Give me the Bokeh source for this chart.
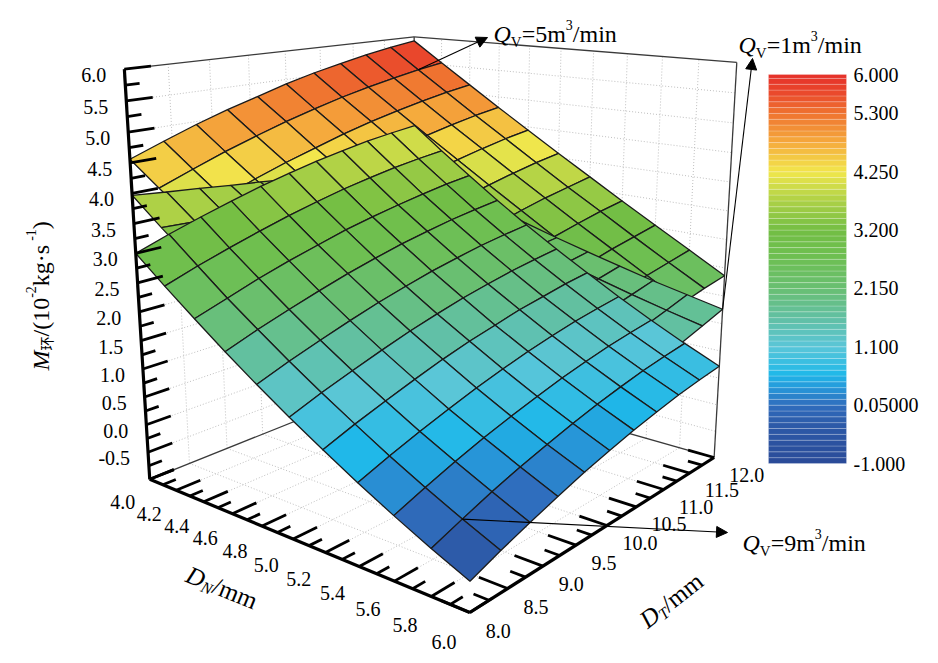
import numpy as np
from bokeh.plotting import figure
from bokeh.models import Range1d, Arrow, NormalHead
from bokeh.core.properties import value
from bokeh.embed import file_html
from bokeh.resources import INLINE

# mesh of the response surfaces
dn = [4.0, 4.2, 4.4, 4.6, 4.8, 5.0, 5.2, 5.4, 5.6, 5.8, 6.0]
dt = [8.0, 8.4, 8.8, 9.2, 9.6, 10.0, 10.4, 10.8, 11.2, 11.6, 12.0]

# M (10^-2 kg/s), one row per D_N, one column per D_T
m_qv5 = [
    [4.56, 4.76, 4.95, 5.12, 5.27, 5.42, 5.55, 5.66, 5.76, 5.85, 5.92],
    [4.18, 4.38, 4.57, 4.74, 4.90, 5.04, 5.17, 5.28, 5.38, 5.47, 5.54],
    [3.81, 4.01, 4.20, 4.37, 4.52, 4.67, 4.80, 4.91, 5.01, 5.10, 5.17],
    [3.44, 3.64, 3.83, 4.00, 4.16, 4.30, 4.43, 4.54, 4.64, 4.73, 4.80],
    [3.08, 3.28, 3.46, 3.64, 3.79, 3.94, 4.06, 4.18, 4.28, 4.37, 4.44],
    [2.72, 2.92, 3.11, 3.28, 3.43, 3.58, 3.71, 3.82, 3.92, 4.01, 4.08],
    [2.37, 2.57, 2.75, 2.92, 3.08, 3.22, 3.35, 3.47, 3.57, 3.65, 3.73],
    [2.02, 2.22, 2.40, 2.58, 2.73, 2.88, 3.00, 3.12, 3.22, 3.31, 3.38],
    [1.67, 1.87, 2.06, 2.23, 2.39, 2.53, 2.66, 2.78, 2.88, 2.96, 3.04],
    [1.33, 1.53, 1.72, 1.89, 2.05, 2.19, 2.32, 2.44, 2.54, 2.62, 2.70],
    [1.00, 1.20, 1.39, 1.56, 1.71, 1.86, 1.99, 2.10, 2.20, 2.29, 2.36],
]
m_qv1 = [
    [3.97, 3.91, 3.86, 3.80, 3.75, 3.69, 3.63, 3.58, 3.52, 3.47, 3.41],
    [3.54, 3.51, 3.47, 3.44, 3.41, 3.37, 3.34, 3.31, 3.27, 3.24, 3.21],
    [3.13, 3.11, 3.10, 3.09, 3.08, 3.07, 3.06, 3.05, 3.04, 3.03, 3.01],
    [2.73, 2.74, 2.75, 2.76, 2.77, 2.78, 2.79, 2.80, 2.81, 2.82, 2.83],
    [2.35, 2.38, 2.41, 2.44, 2.47, 2.50, 2.53, 2.56, 2.59, 2.62, 2.65],
    [1.99, 2.04, 2.09, 2.14, 2.19, 2.24, 2.29, 2.33, 2.38, 2.43, 2.48],
    [1.65, 1.71, 1.78, 1.85, 1.92, 1.98, 2.05, 2.12, 2.19, 2.25, 2.32],
    [1.32, 1.41, 1.49, 1.58, 1.66, 1.75, 1.83, 1.91, 2.00, 2.08, 2.17],
    [1.01, 1.11, 1.22, 1.32, 1.42, 1.52, 1.62, 1.72, 1.82, 1.92, 2.02],
    [0.72, 0.84, 0.96, 1.07, 1.19, 1.31, 1.42, 1.54, 1.66, 1.77, 1.89],
    [0.45, 0.58, 0.71, 0.84, 0.97, 1.11, 1.24, 1.37, 1.50, 1.63, 1.76],
]
m_qv9 = [
    [3.00, 3.19, 3.36, 3.52, 3.67, 3.80, 3.92, 4.02, 4.11, 4.18, 4.24],
    [2.57, 2.76, 2.93, 3.09, 3.24, 3.37, 3.49, 3.59, 3.68, 3.75, 3.81],
    [2.16, 2.34, 2.52, 2.68, 2.82, 2.96, 3.07, 3.17, 3.26, 3.34, 3.40],
    [1.76, 1.95, 2.12, 2.28, 2.43, 2.56, 2.68, 2.78, 2.87, 2.94, 3.00],
    [1.38, 1.57, 1.74, 1.90, 2.05, 2.18, 2.30, 2.40, 2.49, 2.56, 2.62],
    [1.02, 1.21, 1.38, 1.54, 1.69, 1.82, 1.94, 2.04, 2.13, 2.20, 2.26],
    [0.68, 0.87, 1.04, 1.20, 1.35, 1.48, 1.59, 1.70, 1.78, 1.86, 1.92],
    [0.35, 0.54, 0.71, 0.87, 1.02, 1.15, 1.27, 1.37, 1.46, 1.53, 1.59],
    [0.04, 0.23, 0.41, 0.57, 0.71, 0.84, 0.96, 1.06, 1.15, 1.22, 1.28],
    [-0.25, -0.06, 0.12, 0.28, 0.42, 0.55, 0.67, 0.77, 0.86, 0.93, 0.99],
    [-0.52, -0.33, -0.16, 0.00, 0.15, 0.28, 0.40, 0.50, 0.59, 0.66, 0.72],
]

dn_ticks = [4.0, 4.2, 4.4, 4.6, 4.8, 5.0, 5.2, 5.4, 5.6, 5.8, 6.0]
dt_ticks = [8.0, 8.5, 9.0, 9.5, 10.0, 10.5, 11.0, 11.5, 12.0]
z_ticks = [-0.5, 0.0, 0.5, 1.0, 1.5, 2.0, 2.5, 3.0, 3.5, 4.0, 4.5, 5.0, 5.5, 6.0]
cbar_ticks = [-1.0, 0.05, 1.1, 2.15, 3.2, 4.25, 5.3, 6.0]
cbar_labels = ["-1.000", "0.05000", "1.100", "2.150", "3.200", "4.250", "5.300", "6.000"]

Z_LO, Z_HI = -1.0, 6.0
SERIF = "'Liberation Serif', 'Times New Roman', serif"

# colour map
CM_V = [-1.0, -0.3, 0.05, 0.35, 0.6, 1.1, 1.6, 2.15, 2.7, 3.2, 3.75, 4.25, 4.8, 5.3, 5.65, 6.0]
CM_C = ["#2a4a98", "#2d5aa8", "#2f6dbd", "#2796d8", "#1fb8e9", "#5ac6d8", "#61c0a5",
        "#69bf72", "#6ebf52", "#73be44", "#b0d246", "#f2e74c", "#f5a83c", "#ef7430",
        "#ea4a2c", "#e5302a"]
CM_RGB = np.array([[int(c[k:k + 2], 16) for k in (1, 3, 5)] for c in CM_C], float)


def cmap(v):
    rgb = [np.interp(v, CM_V, CM_RGB[:, k]) for k in range(3)]
    return "#%02x%02x%02x" % tuple(int(round(c)) for c in rgb)


# perspective camera, box = unit cube
EYE = np.array([2.472, -1.867, 1.355])
AZ, EL = np.radians(-50.42), np.radians(15.12)
FOC, CX, CY = 1333.0, 441.6, 265.6
fwd = -np.array([np.cos(EL) * np.cos(AZ), np.cos(EL) * np.sin(AZ), np.sin(EL)])
rgt = np.cross(fwd, [0.0, 0.0, 1.0])
rgt /= np.linalg.norm(rgt)
dwn = np.cross(fwd, rgt)


def box(a, b, c):
    return ((np.asarray(a, float) - dn[0]) / (dn[-1] - dn[0]),
            (np.asarray(b, float) - dt[0]) / (dt[-1] - dt[0]),
            (np.asarray(c, float) - Z_LO) / (Z_HI - Z_LO))


def proj(a, b, c):
    u, v, w = box(a, b, c)
    d = np.stack(np.broadcast_arrays(u, v, w), axis=-1) - EYE
    X, Y, Z = d @ rgt, d @ dwn, d @ fwd
    return CX + FOC * X / Z, CY + FOC * Y / Z, Z


def segs(pairs):
    xs, ys = [], []
    for p0, p1 in pairs:
        x, y, _ = proj([p0[0], p1[0]], [p0[1], p1[1]], [p0[2], p1[2]])
        xs.append(list(x))
        ys.append(list(y))
    return xs, ys


p = figure(width=930, height=655, x_range=Range1d(0, 930), y_range=Range1d(655, 0),
           output_backend="svg", toolbar_location=None, x_axis_type=None, y_axis_type=None,
           min_border=0)
p.outline_line_color = None
p.background_fill_color = "white"

# back walls and floor grid
grid = []
for z in z_ticks[:-1]:
    grid.append(((4.0, 8.0, z), (4.0, 12.0, z)))
    grid.append(((4.0, 12.0, z), (6.0, 12.0, z)))
for t in dt_ticks[1:-1]:
    grid.append(((4.0, t, Z_LO), (4.0, t, Z_HI)))
    grid.append(((4.0, t, Z_LO), (6.0, t, Z_LO)))
for d in dn_ticks[1:-1]:
    grid.append(((d, 12.0, Z_LO), (d, 12.0, Z_HI)))
    grid.append(((d, 8.0, Z_LO), (d, 12.0, Z_LO)))
gx, gy = segs(grid)
p.multi_line(gx, gy, line_color="#b8b8b8", line_width=0.9, line_dash="1 2")

frame = [((4.0, 8.0, Z_HI), (4.0, 12.0, Z_HI)), ((4.0, 12.0, Z_HI), (6.0, 12.0, Z_HI)),
         ((6.0, 12.0, Z_LO), (6.0, 12.0, Z_HI)), ((4.0, 12.0, Z_LO), (4.0, 12.0, Z_HI)),
         ((4.0, 8.0, Z_LO), (4.0, 12.0, Z_LO)), ((4.0, 12.0, Z_LO), (6.0, 12.0, Z_LO))]
fx, fy = segs(frame)
p.multi_line(fx, fy, line_color="#3a3a3a", line_width=1.3)


def surface(m):
    m = np.asarray(m, float)
    A, B = np.meshgrid(dn, dt, indexing="ij")
    sx, sy, sz = proj(A, B, m)
    cells = []
    for i in range(len(dn) - 1):
        for j in range(len(dt) - 1):
            k = [(i, j), (i + 1, j), (i + 1, j + 1), (i, j + 1)]
            cells.append((np.mean([sz[a] for a in k]),
                          [float(sx[a]) for a in k], [float(sy[a]) for a in k],
                          cmap(np.mean([m[a] for a in k]))))
    cells.sort(key=lambda c: -c[0])
    p.patches([c[1] for c in cells], [c[2] for c in cells],
              fill_color=[c[3] for c in cells], line_color="#1b1b1b", line_width=1.3)
    return sx, sy


# drawn one after the other, as in the original
s5 = surface(m_qv5)
s1 = surface(m_qv1)
s9 = surface(m_qv9)

# axes
axes = [((4.0, 8.0, Z_LO), (4.0, 8.0, Z_HI)), ((4.0, 8.0, Z_LO), (6.0, 8.0, Z_LO)),
        ((6.0, 8.0, Z_LO), (6.0, 12.0, Z_LO))]
ax_x, ax_y = segs(axes)
p.multi_line(ax_x, ax_y, line_color="black", line_width=3.2)

ticks = []
for k in range(29):
    z = Z_LO + 0.25 * k
    ticks.append(((4.0, 8.0, z), (4.0, 8.0 + (0.3 if k % 2 == 0 else 0.16), z)))
for k in range(21):
    d = 4.0 + 0.1 * k
    ticks.append(((d, 8.0, Z_LO), (d, 8.0 + (0.3 if k % 2 == 0 else 0.16), Z_LO)))
for k in range(17):
    t = 8.0 + 0.25 * k
    ticks.append(((6.0, t, Z_LO), (6.0 - (0.15 if k % 2 == 0 else 0.08), t, Z_LO)))
tx, ty = segs(ticks)
p.multi_line(tx, ty, line_color="black", line_width=2.8)

# tick labels
zx, zy, _ = proj([4.0] * len(z_ticks), [8.0] * len(z_ticks), z_ticks)
p.text(x=list(zx - 18), y=list(zy + 6), text=["%.1f" % z for z in z_ticks],
       text_font=value(SERIF), text_font_size="20px", text_align="right",
       text_baseline="middle", text_color="black")
nx, ny, _ = proj(dn_ticks, [8.0 - 0.09 * 4] * len(dn_ticks), [Z_LO] * len(dn_ticks))
p.text(x=list(nx + 3), y=list(ny + 11), text=["%.1f" % d for d in dn_ticks],
       text_font=value(SERIF), text_font_size="20px", text_align="center",
       text_baseline="middle", text_color="black")
bx, by, _ = proj([6.0 + 0.02 * 2] * len(dt_ticks), dt_ticks, [Z_LO] * len(dt_ticks))
p.text(x=list(bx + 8), y=list(by + 15), text=["%.1f" % t for t in dt_ticks],
       text_font=value(SERIF), text_font_size="20px", text_align="left",
       text_baseline="middle", text_color="black")

# rich text helper
EM = {"M": 0.833, "环": 1.0, "/": 0.278, "(": 0.333, ")": 0.333, "-": 0.333, "k": 0.5,
      "g": 0.5, "·": 0.25, "s": 0.389, "D": 0.722, "N": 0.667, "T": 0.556, "m": 0.778,
      "i": 0.278, "n": 0.5, "Q": 0.722, "V": 0.722, "=": 0.564, " ": 0.25}


def rich(x0, y0, runs, angle=0.0):
    ca, sa = np.cos(angle), np.sin(angle)
    pos = 0.0
    for txt, size, style, rise, font in runs:
        p.text(x=[x0 + pos * ca - rise * sa], y=[y0 - pos * sa - rise * ca], text=[txt],
               angle=angle, text_font=value(font), text_font_size="%dpx" % size,
               text_font_style=style, text_align="left", text_baseline="alphabetic",
               text_color="black")
        pos += sum(EM.get(c, 0.5) for c in txt) * size


rich(40, 370, [("M", 24, "italic", 0, SERIF), ("环", 14, "normal", -5, "Noto Sans CJK SC"),
               ("/(10", 24, "normal", 0, SERIF), ("-2", 14, "normal", 10, SERIF),
               (" kg·s", 24, "normal", 0, SERIF), ("-1", 14, "normal", 10, SERIF),
               (")", 24, "normal", 0, SERIF)], angle=np.pi / 2)
rich(187, 573, [("D", 25, "italic", 0, SERIF), ("N", 16, "italic", -6, SERIF),
                ("/mm", 25, "normal", 0, SERIF)], angle=-0.39)
rich(642, 622, [("D", 25, "italic", 0, SERIF), ("T", 16, "italic", -6, SERIF),
                ("/mm", 25, "normal", 0, SERIF)], angle=0.66)

# flow-rate labels with arrows
qv_labels = [("5", (493, 33), (487, 37), s5, (1, 9)),
             ("1", (738, 44), (752, 58), s1, (10, 10)),
             ("9", (742, 542), (727, 532), s9, (9, 1))]
for q, (lx, ly), (ex, ey), (sx, sy), (i, j) in qv_labels:
    rich(lx, ly, [("Q", 24, "italic", 0, SERIF), ("V", 15, "normal", -8, SERIF),
                  ("=%sm" % q, 24, "normal", 0, SERIF), ("3", 14, "normal", 9, SERIF),
                  ("/min", 24, "normal", 0, SERIF)])
    p.add_layout(Arrow(end=NormalHead(size=11, fill_color="black", line_color="black"),
                       x_start=float(sx[i, j]), y_start=float(sy[i, j]), x_end=ex, y_end=ey,
                       line_color="black", line_width=1.1))

# colour bar
CB_L, CB_R, CB_B, CB_T = 768, 846, 463, 74


def cb_y(v):
    return CB_B - (v - Z_LO) / (Z_HI - Z_LO) * (CB_B - CB_T)


levels = list(np.arange(Z_LO, Z_HI, 0.105)) + [Z_HI]
lo, hi = levels[:-1], levels[1:]
p.quad(left=CB_L, right=CB_R, bottom=[cb_y(a) for a in lo], top=[cb_y(b) for b in hi],
       fill_color=[cmap((a + b) / 2) for a, b in zip(lo, hi)],
       line_color="white", line_alpha=0.35, line_width=0.6)
p.text(x=[853] * len(cbar_ticks), y=[cb_y(v) for v in cbar_ticks], text=cbar_labels,
       text_font=value(SERIF), text_font_size="20px", text_align="left",
       text_baseline="middle", text_color="black")

open("out.html", "w").write(file_html(p, INLINE))
